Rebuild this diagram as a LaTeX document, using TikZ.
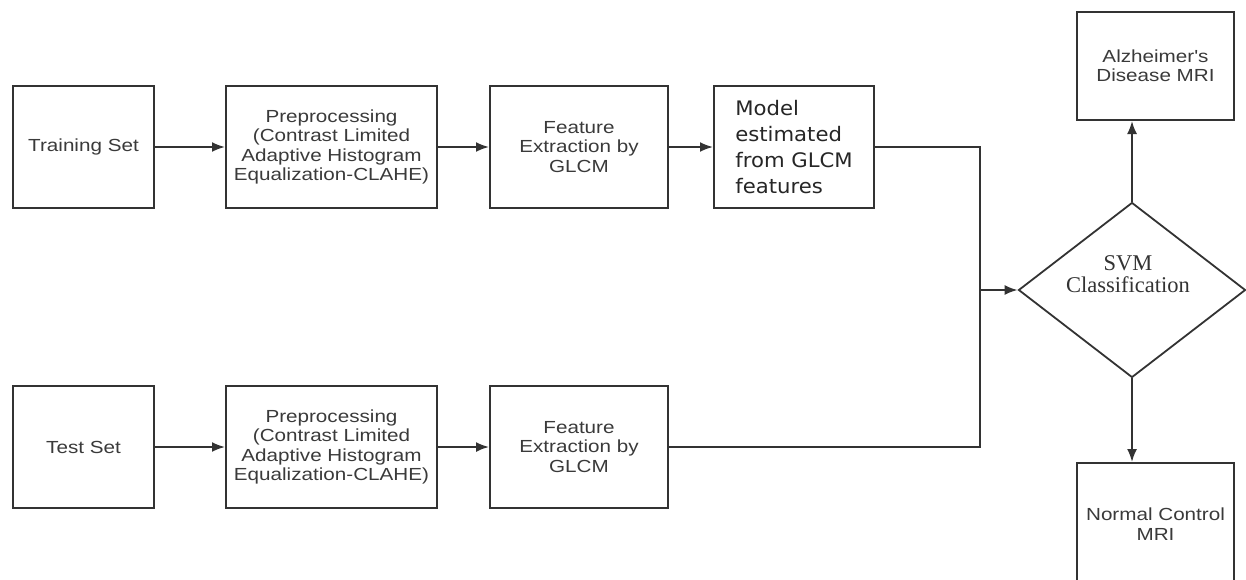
\documentclass[tikz,border=0pt]{standalone}
\usepackage{fontspec}
\newfontfamily\boxfont[FakeStretch=1.18]{Liberation Sans}
\newfontfamily\modelfont[FakeStretch=1.06]{DejaVu Sans}
\newfontfamily\svmfont{Liberation Serif}
\usetikzlibrary{positioning, shapes.geometric, arrows.meta}
\definecolor{linegray}{HTML}{333333}
\definecolor{textgray}{HTML}{3A3A3A}

\begin{document}
\begin{tikzpicture}[x=1pt,y=-1pt,
    box/.style={draw=linegray, line width=2pt, rectangle, minimum height=122pt,
      inner sep=2pt, align=center, text=textgray,
      font=\boxfont\fontsize{17.5}{19.4}\selectfont},
    decision/.style={draw=linegray, line width=1.8pt, diamond,
      minimum width=227pt, minimum height=175pt, inner sep=0pt},
    every edge/.style={draw=linegray, line width=1.9pt},
    >={Latex[length=13pt,width=10pt]}]
  \useasboundingbox (0,0) rectangle (1246,579);

  % training branch
  \node[box, minimum width=141pt] (train) at (83.5,147) {Training Set};
  \node[box, minimum width=211pt] (pre1) [right=70pt of train] {Preprocessing\\(Contrast Limited\\Adaptive Histogram\\Equalization-CLAHE)};
  \node[box, minimum width=178pt] (feat1) [right=51pt of pre1] {Feature\\Extraction by\\GLCM};
  \node[box, minimum width=160pt, align=left, text=black!85,
    font=\modelfont\fontsize{20}{26}\selectfont] (model) [right=44pt of feat1] {Model\\estimated\\from GLCM\\features};

  % test branch
  \node[box, minimum width=141pt] (test) [below=176pt of train] {Test Set};
  \node[box, minimum width=211pt] (pre2) [right=70pt of test] {Preprocessing\\(Contrast Limited\\Adaptive Histogram\\Equalization-CLAHE)};
  \node[box, minimum width=178pt] (feat2) [right=51pt of pre2] {Feature\\Extraction by\\GLCM};

  % classifier and outputs
  \coordinate (join) at (980,290);
  \node[decision] (svm) at (1132,290) {};
  \node[align=center, text=black!80, font=\svmfont\fontsize{22.5}{22}\selectfont]
    (svmtext) at ([xshift=-4pt,yshift=16pt]svm.center) {SVM\\Classification};
  \node[box, minimum width=157pt, minimum height=108pt] (ad) at (1155.5,66) {Alzheimer's\\Disease MRI};
  \node[box, minimum width=157pt, anchor=north] (nc) at (1155.5,462) {Normal Control\\MRI};

  \path[->]
    (train) edge (pre1)
    (pre1)  edge (feat1)
    (feat1) edge (model)
    (test)  edge (pre2)
    (pre2)  edge (feat2)
    (join)  edge (svm)
    (svm)   edge (svm.north |- ad.south)
            edge (svm.south |- nc.north);
  \draw[draw=linegray, line width=1.9pt] (model.east) -| (join) |- (feat2.east);
\end{tikzpicture}
\end{document}
